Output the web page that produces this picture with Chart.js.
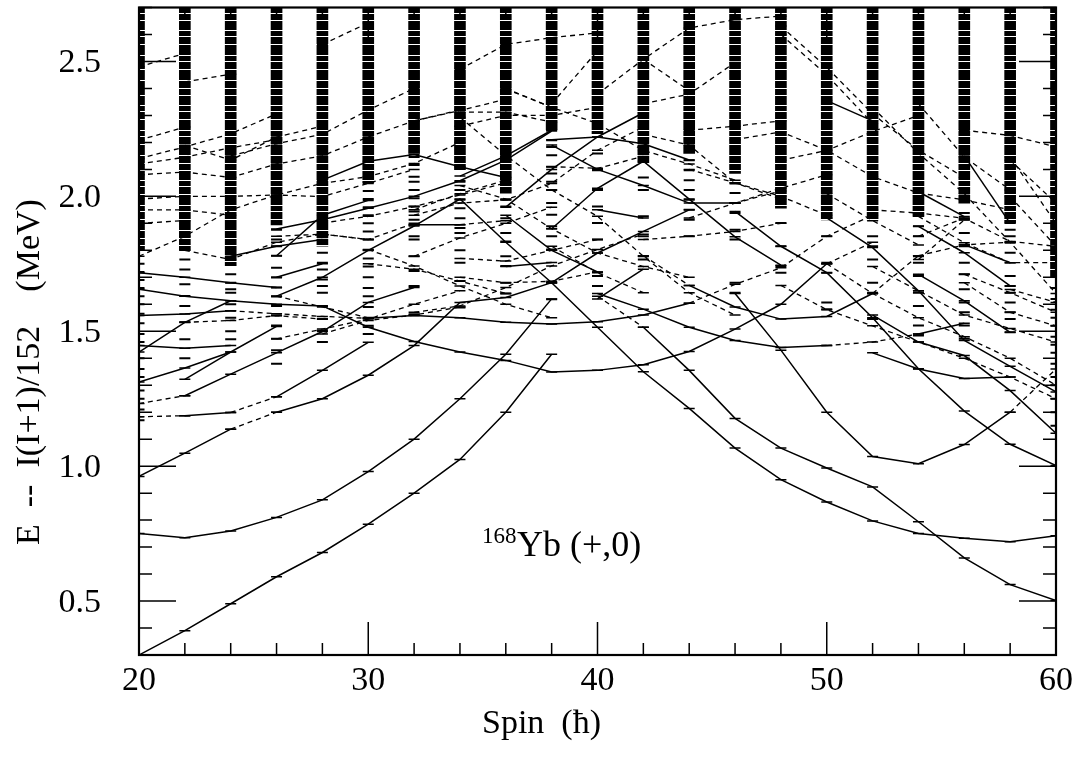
<!DOCTYPE html>
<html>
<head>
<meta charset="utf-8">
<script src="https://cdn.jsdelivr.net/npm/chart.js@4.4.0/dist/chart.umd.min.js"></script>
<style>
  html, body { margin: 0; padding: 0; background: #fff; }
  #wrap { width: 1082px; height: 759px; }
</style>
</head>
<body>
<div id="wrap"><canvas id="chart" width="1082" height="759"></canvas></div>
<script>
// spins where levels are calculated
const spins = [20, 22, 24, 26, 28, 30, 32, 34, 36, 38, 40, 42, 44, 46, 48, 50, 52, 54, 56, 58, 60];

// lowest energy of the dense (unresolved) level region at each spin
const denseFloor = [1.80, 1.80, 1.743, 1.894, 1.815, 2.05, 2.159, 2.097, 2.012, 2.245, 2.232, 2.122,
                    2.159, 2.085, 1.956, 1.913, 1.913, 1.926, 1.975, 1.901, 1.70];

// isolated levels below the dense region, one list per spin
const sparseLevels = [
  [1.75, 1.72, 1.69, 1.66, 1.63, 1.60, 1.565, 1.53, 1.49, 1.46, 1.40, 1.36, 1.33, 1.28, 1.25, 1.21, 1.17],
  [1.766, 1.729, 1.674, 1.631, 1.594, 1.533, 1.47, 1.40],
  [1.711, 1.68, 1.656, 1.643, 1.60, 1.55, 1.50, 1.47],
  [1.876, 1.84, 1.815, 1.78, 1.735, 1.699, 1.662, 1.629, 1.594, 1.558, 1.521, 1.472, 1.43, 1.38],
  [1.791, 1.754, 1.729, 1.692, 1.668, 1.643, 1.594, 1.545, 1.502, 1.46],
  [2.02, 1.99, 1.96, 1.93, 1.90, 1.87, 1.84, 1.80, 1.77, 1.74, 1.70, 1.66, 1.63, 1.59, 1.55, 1.52, 1.49],
  [2.146, 2.116, 2.073, 2.054, 2.024, 1.993, 1.962, 1.944, 1.913, 1.895, 1.852, 1.84, 1.778, 1.723, 1.668, 1.563],
  [2.054, 2.024, 1.987, 1.956, 1.919, 1.883, 1.864, 1.80, 1.754, 1.686, 1.588],
  [1.987, 1.962, 1.919, 1.864, 1.833, 1.778, 1.742, 1.68, 1.64],
  [2.208, 2.183, 2.152, 2.11, 2.085, 2.054, 2.024, 1.975, 1.932, 1.889, 1.852, 1.803, 1.68, 1.619],
  [2.159, 2.097, 2.024, 1.962, 1.901, 1.84, 1.705, 1.668],
  [2.07, 2.024, 1.926, 1.852, 1.778, 1.766],
  [2.134, 2.097, 2.06, 2.024, 1.987, 1.95, 1.913, 1.852],
  [2.048, 2.012, 1.975, 1.938, 1.876, 1.84, 1.68, 1.643],
  [1.901, 1.815, 1.742, 1.717],
  [1.852, 1.754, 1.717, 1.607, 1.582],
  [1.852, 1.815, 1.766, 1.68, 1.643, 1.545],
  [1.889, 1.852, 1.778, 1.754, 1.705, 1.643, 1.594, 1.521, 1.484],
  [1.938, 1.913, 1.864, 1.815, 1.754, 1.711, 1.656, 1.607, 1.57, 1.521, 1.472],
  [1.876, 1.852, 1.828, 1.791, 1.705, 1.668, 1.643, 1.607, 1.57, 1.545, 1.496],
  [1.66, 1.62, 1.58, 1.55, 1.52, 1.48, 1.45, 1.42, 1.38, 1.33, 1.30, 1.25, 1.20, 1.15]
];

// bands drawn solid: [first spin, energies at every second spin]
const solidBands = [
  [20, [0.30, 0.39, 0.49, 0.59, 0.68, 0.785, 0.90, 1.025, 1.20, 1.415]],
  [20, [0.75, 0.735, 0.76, 0.81, 0.875, 0.98, 1.10, 1.25, 1.415, 1.62]],
  [20, [0.962, 1.048, 1.137]],
  [26, [1.20, 1.25, 1.337, 1.447, 1.607, 1.625, 1.68, 1.79, 1.87, 1.95]],
  [22, [1.187, 1.199]],
  [26, [1.257, 1.355, 1.459]],
  [22, [1.261, 1.341, 1.42, 1.499, 1.607, 1.662]],
  [20, [1.312, 1.364, 1.423, 1.518]],
  [22, [1.322, 1.423]],
  [20, [1.447, 1.437, 1.447]],
  [20, [1.423, 1.533, 1.613]],
  [20, [1.558, 1.564, 1.576]],
  [20, [1.656, 1.63, 1.613, 1.60, 1.594, 1.515, 1.462, 1.423, 1.392, 1.349, 1.355, 1.376, 1.425, 1.508, 1.60, 1.75]],
  [20, [1.717, 1.70, 1.68, 1.662]],
  [30, [1.548, 1.558, 1.55, 1.533, 1.527, 1.535, 1.56, 1.604]],
  [26, [1.63, 1.70, 1.80, 1.89, 1.99, 1.83, 1.68, 1.515, 1.35, 1.214, 1.067, 0.95, 0.867, 0.797, 0.75, 0.733, 0.72, 0.742]],
  [42, [1.515, 1.355, 1.177, 1.067, 0.993, 0.923, 0.794, 0.66, 0.561, 0.502]],
  [26, [1.879, 1.913, 1.956, 2.0, 2.058, 2.134, 2.242]],
  [34, [2.075, 2.15, 2.245]],
  [26, [1.70, 1.75]],
  [24, [1.778, 1.815, 1.84]],
  [26, [1.78, 1.93, 1.985]],
  [28, [2.06, 2.13, 2.155, 2.11, 2.07]],
  [32, [1.895, 1.895]],
  [36, [1.96, 2.10, 2.22, 2.31]],
  [36, [1.93, 1.80, 1.72]],
  [38, [1.88, 2.03, 2.13, 1.99, 1.85, 1.745]],
  [40, [1.95, 1.92]],
  [36, [1.74, 1.755]],
  [38, [2.21, 2.22, 2.195, 2.135]],
  [38, [2.19, 2.10, 2.04, 1.975, 1.975]],
  [40, [1.62, 1.73]],
  [40, [1.64, 1.582, 1.515, 1.466, 1.44, 1.447]],
  [54, [1.49, 1.53]],
  [44, [1.67, 1.59, 1.545, 1.555, 1.64]],
  [46, [1.64, 1.43, 1.20, 1.036, 1.009, 1.08, 1.20]],
  [46, [1.944, 1.815, 1.717, 1.55, 1.361, 1.204, 1.081, 1.002]],
  [52, [1.56, 1.46, 1.41, 1.28, 1.122]],
  [50, [1.92, 1.81, 1.65, 1.466, 1.37, 1.275]],
  [52, [1.42, 1.36, 1.325, 1.33]],
  [50, [2.355, 2.28]],
  [56, [2.15, 1.90]],
  [54, [2.017, 1.925]],
  [56, [1.821, 1.754]],
  [54, [1.711, 1.613, 1.496]],
  [54, [1.889, 1.791, 1.668]]
];

// bands drawn dashed
const dashedBands = [
  [20, [2.48, 2.53]], [22, [2.424, 2.453]], [28, [2.563, 2.643]],
  [20, [2.208, 2.257]], [20, [2.14, 2.183, 2.232, 2.306]], [20, [2.12, 2.145, 2.18, 2.21]],
  [22, [2.189, 2.134, 2.22, 2.26]], [24, [2.15, 2.195, 2.23, 2.32, 2.40]],
  [20, [2.08, 2.09, 2.07]], [24, [2.07, 2.12, 2.15, 2.22, 2.28, 2.32]],
  [20, [1.99, 2.0, 2.0, 2.005, 1.999, 2.048, 2.10]], [20, [1.95, 1.95, 1.93]], [20, [1.90, 1.91]],
  [20, [1.778, 1.852, 1.95, 2.005, 2.048, 2.073, 2.122, 2.20]],
  [22, [1.80, 1.766, 1.83, 1.86, 1.84]], [28, [1.901, 1.926, 1.962, 2.005, 2.05]],
  [30, [1.803, 1.742, 1.668, 1.60, 1.55]], [26, [1.472, 1.508, 1.545, 1.60, 1.65]],
  [28, [1.49, 1.54, 1.56, 1.59]], [32, [1.778, 1.846, 1.90, 1.96]], [32, [1.95, 2.01, 2.06]],
  [32, [2.28, 2.318, 2.36]], [34, [2.471, 2.563, 2.588, 2.606]], [38, [2.343, 2.539]],
  [40, [2.379, 2.508, 2.624, 2.655, 2.668]], [36, [2.398, 2.33]], [42, [2.508, 2.392]],
  [34, [2.312, 2.312, 2.275]], [34, [2.26, 2.30, 2.30, 2.33]],
  [34, [2.293, 2.152, 2.024, 1.926, 1.778, 1.643, 1.56]], [36, [2.40, 2.33, 2.27, 2.17, 2.12, 2.06]],
  [42, [2.343, 2.379, 2.496]], [38, [2.11, 2.104, 2.148]], [44, [2.245, 2.26, 2.28]],
  [42, [2.23, 2.19, 2.05, 2.0, 1.93]], [32, [1.93, 1.975, 1.987, 2.048, 2.171, 2.257]],
  [34, [2.04, 1.99, 1.88, 1.79, 1.74, 1.70]], [34, [1.77, 1.76, 1.80, 1.84]], [34, [1.70, 1.68, 1.685, 1.72]],
  [32, [1.57, 1.594, 1.662, 1.742, 1.803, 1.86]], [48, [2.631, 2.478, 2.306, 2.171, 2.07]],
  [48, [2.60, 2.45, 2.27]], [46, [2.21, 2.239, 2.171, 2.073, 2.012, 1.987, 1.95]], [48, [2.134, 2.17, 2.24, 2.30]],
  [44, [1.92, 1.975, 2.03, 2.08]], [54, [2.343, 2.146, 2.024]], [56, [2.245, 2.226, 2.183]],
  [58, [2.146, 1.90]], [54, [1.926, 1.828, 1.754, 1.754]], [54, [1.78, 1.82, 1.83]], [58, [1.999, 1.815]],
  [22, [1.533, 1.54, 1.558, 1.545]], [24, [1.576, 1.565, 1.555, 1.548]], [44, [1.604, 1.674, 1.735, 1.852, 1.93]],
  [24, [1.137, 1.20]], [24, [1.199, 1.257]], [20, [1.232, 1.261]], [20, [1.183, 1.187]],
  [40, [1.63, 1.515]], [50, [1.447, 1.46, 1.49]], [52, [1.64, 1.78]], [58, [1.20, 1.36]],
  [46, [1.975, 2.02]], [34, [1.895, 1.91]], [50, [1.75, 1.83]], [42, [1.78, 1.67]],
  [42, [1.84, 1.852, 1.87, 1.90]], [44, [2.10, 2.05, 1.99]], [50, [2.01, 1.91, 1.82]],
  [50, [1.75, 1.64, 1.55, 1.48, 1.40, 1.30]], [48, [1.67, 1.58, 1.52, 1.46, 1.40, 1.33, 1.25]],
  [52, [2.33, 2.16, 2.01, 1.83, 1.64]], [58, [2.134, 1.975]], [52, [1.95, 1.938, 1.919, 1.833, 1.815]],
  [54, [1.852, 1.92]], [54, [1.766, 1.913]], [58, [1.655, 1.607]], [56, [1.711, 1.643, 1.57]],
  [56, [1.68, 1.57, 1.52]], [52, [1.74, 1.65, 1.56, 1.51, 1.46]], [30, [1.75, 1.73, 1.686, 1.64]],
  [38, [1.815, 1.717, 1.643]], [26, [1.63, 1.59, 1.55]], [26, [1.852, 1.86, 1.84, 1.90]]
];

const xTickLabels = ['20', '30', '40', '50', '60'];
const yTickLabels = ['0.5', '1.0', '1.5', '2.0', '2.5'];

const canvas = document.getElementById('chart');
const ctx = canvas.getContext('2d');

// striped fill for the unresolved level region
function levelPattern() {
  const rows = '111110111111101111110111111111011111011111110111111111101111101111111011111';
  const tile = document.createElement('canvas');
  tile.width = 1;
  tile.height = rows.length;
  const g = tile.getContext('2d');
  for (let i = 0; i < rows.length; i++) {
    g.fillStyle = rows[i] === '1' ? '#000' : '#fff';
    g.fillRect(0, i, 1, 1);
  }
  return ctx.createPattern(tile, 'repeat');
}

const toPoints = (start, vals) => vals.map((v, i) => ({ x: start + 2 * i, y: v }));

const datasets = [];
solidBands.forEach(([start, vals]) => datasets.push({
  type: 'line', data: toPoints(start, vals), borderColor: '#000', borderWidth: 1.5,
  pointStyle: 'line', pointRadius: 5.5, pointBorderWidth: 1.5, pointBorderColor: '#000',
  fill: false, tension: 0, order: 1
}));
dashedBands.forEach(([start, vals]) => datasets.push({
  type: 'line', data: toPoints(start, vals), borderColor: '#000', borderWidth: 1.3, borderDash: [5, 4],
  pointStyle: 'line', pointRadius: 5.5, pointBorderWidth: 1.5, pointBorderColor: '#000',
  fill: false, tension: 0, order: 2
}));
const levelPts = [];
spins.forEach((s, i) => sparseLevels[i].forEach(e => levelPts.push({ x: s, y: e })));
datasets.push({
  type: 'scatter', data: levelPts, showLine: false, pointStyle: 'line', pointRadius: 5.5,
  pointBorderWidth: 2, pointBorderColor: '#000', order: 3
});
datasets.push({
  type: 'bar', data: spins.map((s, i) => ({ x: s, y: [denseFloor[i], 2.7] })),
  backgroundColor: levelPattern(), borderWidth: 0, barThickness: 11, grouped: false, order: 4
});

const frame = {
  id: 'frame',
  afterDatasetsDraw(chart) {
    const { ctx, chartArea: a, scales: { x, y } } = chart;
    ctx.save();
    ctx.strokeStyle = '#000';
    ctx.lineWidth = 1.5;
    ctx.beginPath();
    for (let s = 20; s <= 60; s += 2) {
      const px = x.getPixelForValue(s);
      const len = s % 10 === 0 ? 33 : 12;
      ctx.moveTo(px, a.bottom); ctx.lineTo(px, a.bottom - len);
      ctx.moveTo(px, a.top); ctx.lineTo(px, a.top + len);
    }
    for (let k = 3; k <= 27; k++) {
      const py = y.getPixelForValue(k / 10);
      const len = k % 5 === 0 ? 37 : 13;
      ctx.moveTo(a.left, py); ctx.lineTo(a.left + len, py);
      ctx.moveTo(a.right, py); ctx.lineTo(a.right - len, py);
    }
    ctx.stroke();
    ctx.lineWidth = 2.2;
    ctx.strokeRect(a.left, a.top, a.right - a.left, a.bottom - a.top);

    ctx.fillStyle = '#000';
    ctx.font = '34px "Liberation Serif", "Times New Roman", serif';
    ctx.textAlign = 'right';
    ctx.textBaseline = 'alphabetic';
    yTickLabels.forEach(t => ctx.fillText(t, 101, y.getPixelForValue(parseFloat(t)) + 11));
    ctx.textAlign = 'center';
    xTickLabels.forEach(t => ctx.fillText(t, x.getPixelForValue(parseFloat(t)), 690));

    ctx.textAlign = 'left';
    ctx.fillText('Spin\u2002(\u0127)', 482, 733);

    ctx.save();
    ctx.translate(39, 545);
    ctx.rotate(-Math.PI / 2);
    ctx.fillText('E\u00a0\u00a0--\u00a0\u00a0I(I+1)/152\u00a0\u00a0\u00a0\u00a0(MeV)', 0, 0);
    ctx.restore();

    ctx.font = '23px "Liberation Serif", "Times New Roman", serif';
    ctx.fillText('168', 482, 543);
    ctx.font = '36px "Liberation Serif", "Times New Roman", serif';
    ctx.fillText('Yb (+,0)', 517, 556);
    ctx.restore();
  }
};

new Chart(ctx, {
  type: 'line',
  data: { datasets },
  options: {
    responsive: false,
    animation: false,
    layout: { padding: { left: 139, right: 26, top: 3, bottom: 104 } },
    plugins: { legend: { display: false }, tooltip: { enabled: false } },
    scales: {
      x: { type: 'linear', min: 20, max: 60, offset: false, display: false },
      y: { type: 'linear', min: 0.3, max: 2.7, display: false }
    }
  },
  plugins: [frame]
});
</script>
</body>
</html>
